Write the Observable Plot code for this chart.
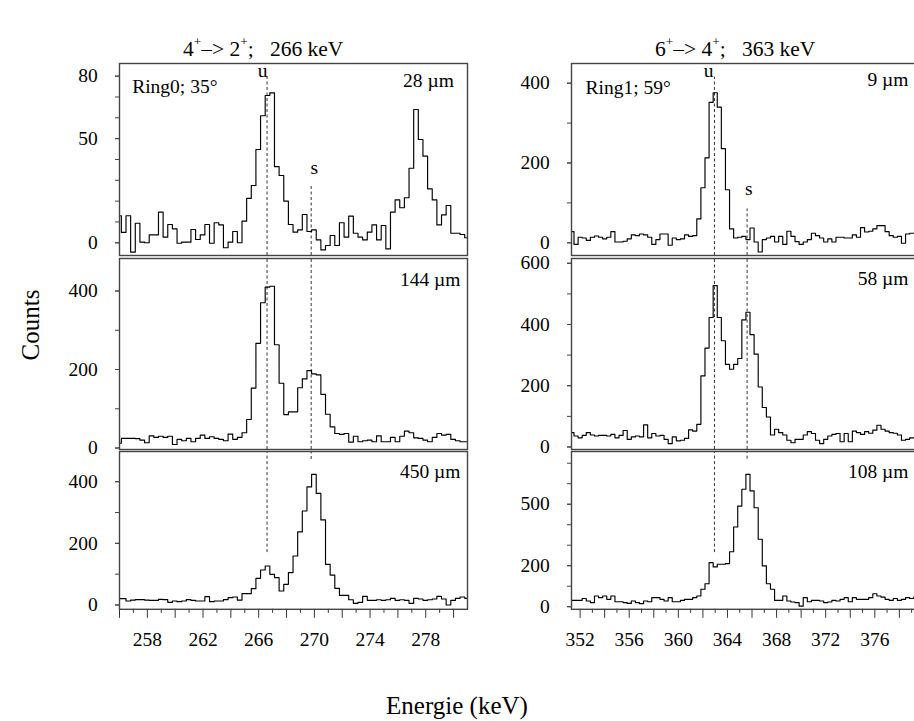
<!DOCTYPE html>
<html>
<head>
<meta charset="utf-8">
<script src="https://cdn.jsdelivr.net/npm/d3@7"></script>
<script src="https://cdn.jsdelivr.net/npm/@observablehq/plot@0.6"></script>
<style>
html,body{margin:0;padding:0;background:#fff;overflow:hidden;}
#wrap{position:relative;width:914px;height:721px;overflow:hidden;font-family:"Liberation Serif","Times New Roman",serif;color:#000;}
.lbl{position:absolute;white-space:pre;line-height:1;}
sup{font-size:62%;vertical-align:0;position:relative;top:-0.75em;}
</style>
</head>
<body>
<div id="wrap"></div>
<script>
// ---------- data ----------
const binWidth = 1/3;                 // keV per channel
const leftBinStart = 255.8;           // keV, first channel (266 keV line)
const rightBinStart = 351.17;         // keV, first channel (363 keV line)

const leftTitle = "4<sup>+</sup>–> 2<sup>+</sup>;&nbsp;&nbsp;&nbsp;266 keV";
const rightTitle = "6<sup>+</sup>–> 4<sup>+</sup>;&nbsp;&nbsp;&nbsp;363 keV";
const ringLeft = "Ring0; 35°";
const ringRight = "Ring1; 59°";
const thickLeft = ["28 µm", "144 µm", "450 µm"];
const thickRight = ["9 µm", "58 µm", "108 µm"];
const markerNames = ["u", "s"];
const leftMarkerE = [266.6, 269.77];
const rightMarkerE = [362.94, 365.6];
const leftTopMarkerStart = [81, 27];
const leftBottomMarkerEnd = [170, 472];
const rightTopMarkerStart = [415, 85];
const rightBottomMarkerEnd = [264, 720];

const countsL28 = [13, 5, 13, -4.5, 9.4, 0.3, 0, 3.8, 3.8, 14.7,
  2.7, 8.8, 6.7, -0.2, 0.3, 0.3, 6.4, 1.6, 3.8, 8.8,
  -0.2, 9.6, 8.6, -2.4, 0.3, 5.4, 0, 10.4, 21.3, 27.5,
  44.8, 61, 70.7, 72, 36.6, 32.3, 20, 8.8, 5.1, 6.2,
  13.6, 5.4, 6.2, 1.4, -3.4, -1.3, 3.5, -1.3, 9.6, 2.7,
  12.8, 4.6, 2.7, 1.4, 5.1, 8.6, 1.4, 8.3, -2.9, 14.7,
  20.6, 16.8, 21.6, 35.8, 64, 49.6, 41.6, 25.9, 20.6, 8.6,
  13.4, 17.9, 4.6, 4.6, 4, 2.4];
const countsL144 = [12, 24.5, 24.5, 24.5, 24, 20, 13.5, 31, 27, 30,
  27, 30, 9, 22, 18.5, 24.5, 16, 24.5, 33, 24.5,
  28.7, 24.5, 22, 18.5, 35.4, 22, 27, 38.8, 72.6, 152.7,
  266.7, 370, 410, 412, 263, 165, 85, 92, 92, 153.6,
  176, 197, 189, 186.5, 136.7, 86, 54, 37, 34.6, 37,
  15, 30, 16, 18.5, 20, 16, 31, 16, 16, 27,
  16, 30, 43, 38.8, 26, 24.5, 20, 16, 27, 37,
  33, 34.6, 22, 18.5, 16, 16];
const countsL450 = [20.5, 20.5, 13, 16, 17.3, 17.3, 16, 15, 15, 18.4,
  17.3, 8.6, 13, 10.8, 13, 17.3, 15, 13, 13, 27,
  10.8, 13, 13, 17.3, 23.8, 26, 16, 36.8, 36.8, 53,
  86.5, 113.5, 126.5, 99.5, 88.6, 45.4, 67, 105, 159, 237,
  305, 383, 424, 362, 276, 132, 97, 54, 31, 31,
  17, 5.4, 8.6, 28, 15, 15, 17, 15, 17, 21.6,
  15, 17, 15, 5.4, 21.6, 19.5, 15, 17, 19.5, 28,
  19.5, 0, 15, 21.6, 26, 21.6];
const countsR9 = [28, -4, 14, 12, 6, 14, 17, 14, 10, 14,
  28, 2, 2, 4, 10, 20, 18, 22, 20, 14,
  -4, 8, 22, 22, -6, 12, 8, 10, 20, 16,
  18, 60, 138, 213, 352, 376, 340, 236, 133, 35,
  12, 14, 16, 8, 37, 2, -23, 8, 12, 16,
  2, 16, -4, 29, 16, 3, -4, 2, 8, 24,
  18, 12, 2, 10, 2, 14, 14, 12, 12, 20,
  14, 38, 27, 29, 35, 43, 43, 28, 18, 14,
  16, -1, 22, 24, 24];
const countsR58 = [47, 36, 30, 38, 47, 39, 36, 38, 38, 36,
  41, 30, 38, 54, 25, 33, 36, 33, 72, 30,
  44, 36, 38, 25, 11, 33, 20, 22, 28, 56,
  52, 74, 232, 323, 423, 527, 423, 347, 270, 254,
  270, 289, 415, 440, 367, 303, 196, 129, 98, 39,
  58, 47, 39, 22, 14, 25, 25, 39, 50, 44,
  22, 11, 25, 36, 41, 44, 17, 44, 17, 52,
  47, 41, 50, 45, 55, 71, 58, 52, 47, 45,
  39, 22, 25, 30, 30];
const countsR108 = [31, 31, 31, 40, 28, 20, 52, 44, 52, 36,
  52, 24, 24, 20, 16, 28, 20, 15, 28, 24,
  44, 44, 36, 28, 44, 24, 24, 31, 36, 36,
  44, 52, 85, 112, 215, 194, 207, 207, 210, 268,
  389, 491, 573, 646, 565, 483, 329, 199, 112, 85,
  31, 31, 52, 28, 23, 20, 3, 44, 24, 31,
  31, 28, 20, 23, 31, 28, 36, 44, 24, 44,
  36, 36, 36, 44, 63, 52, 47, 36, 31, 40,
  31, 36, 44, 40, 47];

const yTicksL = [[0, 50, 80], [0, 200, 400], [0, 200, 400]];
const yMinorL = [d3.range(0, 90, 10), d3.range(0, 500, 100), d3.range(0, 500, 100)];
const yTicksR = [[0, 200, 400], [0, 200, 400, 600], [0, 200, 500]];
const yMinorR = [d3.range(0, 450, 100), d3.range(0, 620, 100), d3.range(0, 760, 100)];
const xLabelsL = d3.range(258, 281, 4);
const xLabelsR = d3.range(352, 380, 4);

// ---------- layout ----------
const wrap = document.getElementById("wrap");
const FONT = "Liberation Serif, Times New Roman, serif";
const FS = 19.5;

function panel(o) {
  const mL = 62, mR = 2, mT = 12, mB = o.bottom ? 56 : 12;
  const width = o.fr - o.fl + mL + mR;
  const height = o.fb - o.ft + mT + mB;
  const pts = o.counts.map((c, i) => ({e: o.start + i * binWidth, c}));
  pts.push({e: o.start + o.counts.length * binWidth, c: o.counts[o.counts.length - 1]});
  const [ya, yb] = o.yDomain;
  const [xa, xb] = o.xDomain;
  const marks = [];
  // dashed marker lines
  const rules = o.markerE.map((e, i) => {
    let y1 = ya, y2 = yb;
    if (o.markerStart) y2 = o.markerStart[i];
    if (o.markerEnd) y1 = o.markerEnd[i];
    return {e, y1, y2};
  });
  marks.push(Plot.ruleX(rules, {x: "e", y1: "y1", y2: "y2", stroke: "#333", strokeWidth: 1, strokeDasharray: "3,2.5"}));
  marks.push(Plot.line(pts, {x: "e", y: "c", curve: "step-after", stroke: "#000", strokeWidth: 1.15, clip: true}));
  // y axis
  marks.push(Plot.axisY({ticks: o.yMinor, tickSize: 4, tickFormat: () => "", color: "#444"}));
  marks.push(Plot.axisY({ticks: o.yTicks, tickSize: 4, tickPadding: o.yPad, fontSize: FS, fontFamily: FONT, color: "#000", stroke: "#444"}));
  if (o.bottom) {
    const inD = v => v >= xa && v <= xb;
    marks.push(Plot.axisX({ticks: o.xLabels, tickSize: 0, tickPadding: 23, fontSize: FS, fontFamily: FONT, color: "#000"}));
    marks.push(Plot.axisX({ticks: d3.range(Math.ceil(xa / 2) * 2, xb, 2).filter(inD), tickSize: 9, tickFormat: () => "", color: "#333"}));
    marks.push(Plot.axisX({ticks: d3.range(Math.ceil(xa / 2) * 2 + 1, xb, 2).filter(inD), tickSize: 4, tickFormat: () => "", color: "#333"}));
  }
  marks.push(Plot.frame({stroke: "#444", strokeWidth: 1.4}));
  // texts
  for (const t of o.texts) {
    marks.push(Plot.text([t.text], {text: d => d, frameAnchor: t.anchor, textAnchor: t.ta, lineAnchor: "bottom", dx: t.dx, dy: t.dy, fontSize: FS, fontFamily: FONT, fill: "#000"}));
  }
  if (o.markerStart) {
    o.markerE.forEach((e, i) => {
      const m = o.markLbl[i];
      marks.push(Plot.text([{e, n: markerNames[i]}], {x: "e", text: "n", frameAnchor: "top", lineAnchor: "bottom", dx: m[0], dy: m[1], fontSize: FS, fontFamily: FONT, fill: "#000"}));
    });
  }
  const svg = Plot.plot({
    width, height,
    marginLeft: mL, marginRight: mR, marginTop: mT, marginBottom: mB,
    x: o.bottom ? {domain: o.xDomain, label: null} : {domain: o.xDomain, label: null, axis: null},
    y: {domain: o.yDomain, label: null},
    style: {background: "transparent", overflow: "visible", fontFamily: FONT, fontSize: FS + "px", color: "#000"},
    marks
  });
  svg.style.position = "absolute";
  svg.style.left = (o.fl - mL) + "px";
  svg.style.top = (o.ft - mT) + "px";
  wrap.appendChild(svg);
}

const rows = [
  {ft: 63, fb: 255},
  {ft: 257.5, fb: 448.5},
  {ft: 450.5, fb: 608.3}
];
const leftY = [[-6.1, 86.07], [-3.8, 482.8], [-14, 498]];
const rightY = [[-31.8, 449.4], [-8.2, 615.5], [-12.7, 757.3]];
const leftCounts = [countsL28, countsL144, countsL450];
const rightCounts = [countsR9, countsR58, countsR108];
const leftTextDy = [23, 27.5, 26.5];
const leftTextDx = [-13.7, -7, -7];
const rightTextDy = [22, 26.5, 26.5];

for (let r = 0; r < 3; r++) {
  const textsL = [{text: thickLeft[r], anchor: "top-right", ta: "end", dx: leftTextDx[r], dy: leftTextDy[r]}];
  const textsR = [{text: thickRight[r], anchor: "top-right", ta: "end", dx: -10, dy: rightTextDy[r]}];
  if (r === 0) {
    textsL.push({text: ringLeft, anchor: "top-left", ta: "start", dx: 12.7, dy: 29});
    textsR.push({text: ringRight, anchor: "top-left", ta: "start", dx: 14, dy: 30});
  }
  panel({
    fl: 119, fr: 467, ft: rows[r].ft, fb: rows[r].fb,
    xDomain: [256, 281], yDomain: leftY[r],
    counts: leftCounts[r], start: leftBinStart,
    yTicks: yTicksL[r], yMinor: yMinorL[r], yPad: 17.7,
    bottom: r === 2, xLabels: xLabelsL,
    markerE: leftMarkerE,
    markerStart: r === 0 ? leftTopMarkerStart : null,
    markerEnd: r === 2 ? leftBottomMarkerEnd : null,
    markLbl: [[-4.5, 13], [3, 110.3]],
    texts: textsL
  });
  panel({
    fl: 571, fr: 918, ft: rows[r].ft, fb: rows[r].fb,
    xDomain: [351.3, 351.3 + 347 / 12.28], yDomain: rightY[r],
    counts: rightCounts[r], start: rightBinStart,
    yTicks: yTicksR[r], yMinor: yMinorR[r], yPad: 17.7,
    bottom: r === 2, xLabels: xLabelsR,
    markerE: rightMarkerE,
    markerStart: r === 0 ? rightTopMarkerStart : null,
    markerEnd: r === 2 ? rightBottomMarkerEnd : null,
    markLbl: [[-5.7, 13.7], [1.6, 131]],
    texts: textsR
  });
}

// titles and axis labels (HTML, outside the SVGs)
function label(html, css) {
  const d = document.createElement("div");
  d.className = "lbl";
  d.innerHTML = html;
  Object.assign(d.style, css);
  wrap.appendChild(d);
  return d;
}
label(leftTitle, {left: "183px", top: "39px", fontSize: "21.5px"});
label(rightTitle, {left: "655px", top: "39px", fontSize: "21.5px"});
label("Counts", {left: "30px", top: "325px", fontSize: "25px", transform: "translate(-50%,-50%) rotate(-90deg)"});
label("Energie (keV)", {left: "457px", top: "693px", fontSize: "25px", transform: "translateX(-50%)"});
</script>
</body>
</html>
